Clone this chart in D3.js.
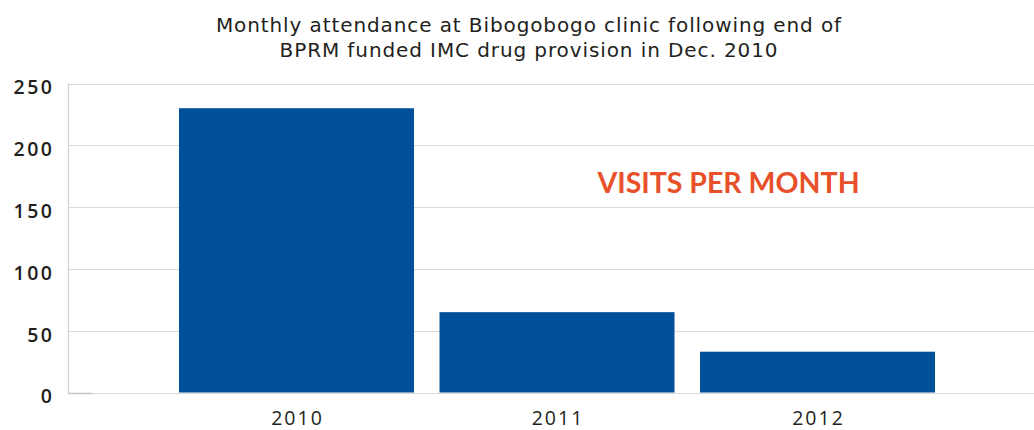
<!DOCTYPE html>
<html><head><meta charset="utf-8">
<script src="https://cdn.jsdelivr.net/npm/d3@7"></script>
<style>body{margin:0;background:#fff}svg{display:block}</style>
</head><body>
<svg id="c" width="1034" height="430"></svg>
<script>
const categories = ["2010", "2011", "2012"];
const visits = [230, 65, 33];
const yTicks = [0, 50, 100, 150, 200, 250];
const titleLines = ["Monthly attendance at Bibogobogo clinic following end of", "BPRM funded IMC drug provision in Dec. 2010"];
const seriesLabel = "VISITS PER MONTH";

(function () {
const svg = d3.select("#c");
const font = "'Open Sans', Lato, sans-serif";
const plotLeft = 68, plotRight = 1034, plotTop = 83.5, plotBottom = 392.5;

const y = d3.scaleLinear().domain([0, 250]).range([plotBottom, plotTop]);
const x = d3.scaleBand().domain(categories).range([166.25, 947.75]).paddingInner(0.098).paddingOuter(0.049);

// gridlines
svg.append("g").selectAll("line").data(yTicks).join("line")
  .attr("x1", plotLeft).attr("x2", plotRight)
  .attr("y1", d => Math.round(y(d)) + 0.5).attr("y2", d => Math.round(y(d)) + 0.5)
  .attr("stroke", "#d9d9d9").attr("stroke-width", 1.2);
// y axis line
svg.append("line").attr("x1", plotLeft + 0.5).attr("x2", plotLeft + 0.5).attr("y1", y(250)).attr("y2", y(0) + 1)
  .attr("stroke", "#d0d0d0").attr("stroke-width", 1.2);
svg.append("line").attr("x1", plotLeft).attr("x2", 92).attr("y1", Math.round(y(0)) + 0.5).attr("y2", Math.round(y(0)) + 0.5)
  .attr("stroke", "#c4c4c4").attr("stroke-width", 1.5);

// y labels
svg.append("g").selectAll("text").data(yTicks).join("text")
  .attr("x", 54.5).attr("y", d => y(d) + 4).attr("dy", "0.35em")
  .attr("text-anchor", "end").attr("font-family", font).attr("font-weight", 600)
  .attr("font-size", 19.5).attr("letter-spacing", "2.5px").attr("fill", "#231f20").text(d => d);

// bars
svg.append("g").selectAll("rect").data(categories).join("rect")
  .attr("x", d => x(d)).attr("width", x.bandwidth())
  .attr("y", (d, i) => y(visits[i])).attr("height", (d, i) => y(0) - y(visits[i]))
  .attr("fill", "#01509a");

// x labels
svg.append("g").selectAll("text").data(categories).join("text")
  .attr("x", d => x(d) + x.bandwidth() / 2 + 1).attr("y", 424.5)
  .attr("text-anchor", "middle").attr("font-family", font).attr("font-weight", 500)
  .attr("font-size", 19.5).attr("letter-spacing", "2px").attr("fill", "#231f20").text(d => d);

// title
svg.append("g").selectAll("text").data(titleLines).join("text")
  .attr("x", 529).attr("y", (d, i) => 32 + i * 25)
  .attr("text-anchor", "middle").attr("font-family", "'DejaVu Sans', sans-serif").attr("font-weight", 400)
  .attr("font-size", 20).attr("letter-spacing", "0.9px").attr("fill", "#231f20").text(d => d);

// series label
svg.append("text").attr("x", 728.5).attr("y", 193)
  .attr("text-anchor", "middle").attr("font-family", "Lato, sans-serif").attr("font-weight", 700)
  .attr("font-size", 28.5).attr("fill", "#e8502a").text(seriesLabel);
})();
</script>
</body></html>
